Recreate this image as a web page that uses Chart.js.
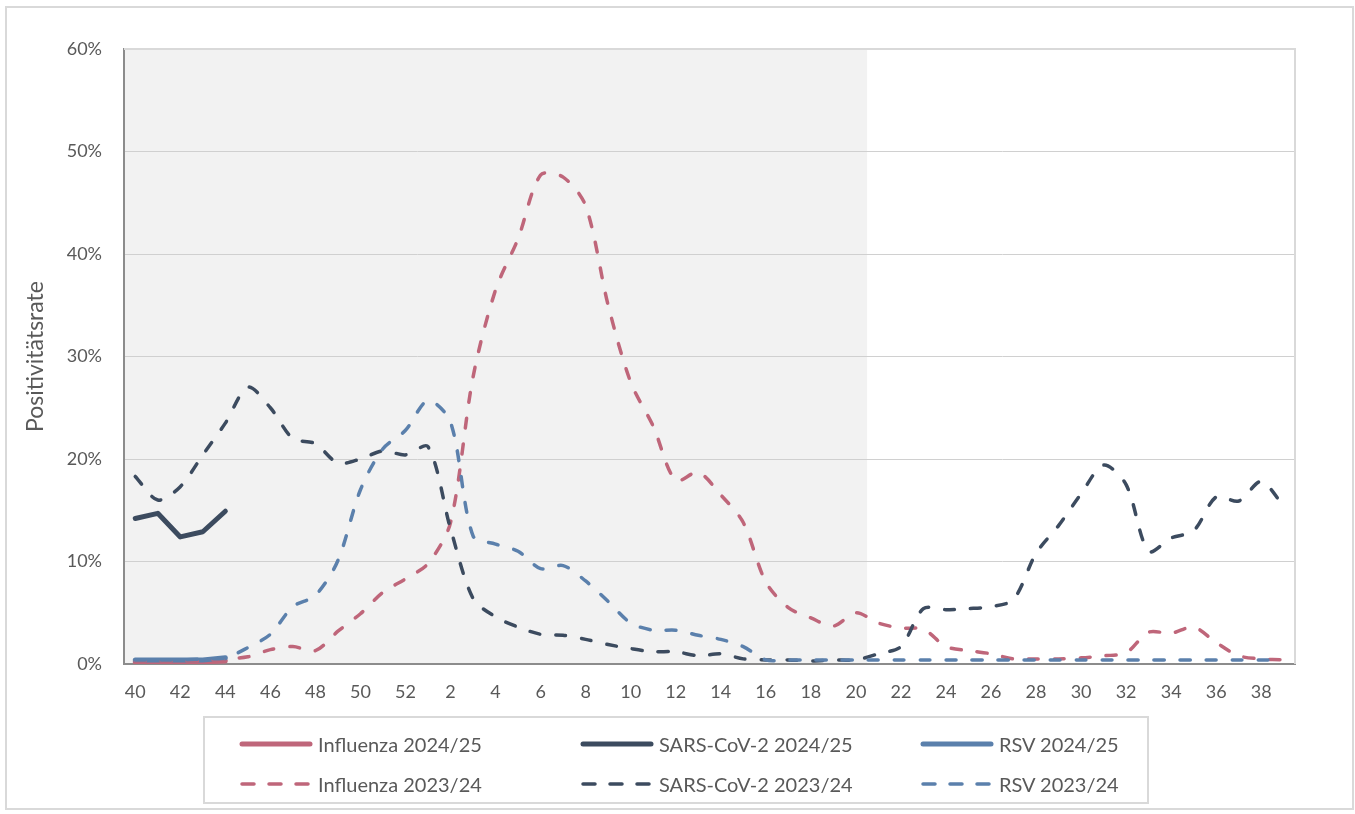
<!DOCTYPE html>
<html>
<head>
<meta charset="utf-8">
<script src="https://cdn.jsdelivr.net/npm/chart.js@4.4.1/dist/chart.umd.min.js"></script>
<style>
body { margin: 0; background: #fff; font-family: Lato, sans-serif; }
#wrap { position: relative; width: 1355px; height: 814px; }
#frame { position: absolute; left: 5px; top: 6px; width: 1349px; height: 804px; border: 2px solid #d9d9d9; box-sizing: border-box; }
#chart { position: absolute; left: 0; top: 0; }
#legend { position: absolute; left: 203px; top: 716px; width: 946px; height: 88px; border: 2px solid #d9d9d9; box-sizing: border-box; }
.item { position: absolute; display: flex; align-items: center; font-size: 20px; color: #595959; white-space: nowrap; }
.item svg { margin-right: 5px; }
</style>
</head>
<body>
<div id="wrap">
  <div id="frame"></div>
  <canvas id="chart" width="1355" height="814"></canvas>
  <div id="legend"></div>
</div>
<script>
// Kalenderwochen 40/2023 bis 39/2024
const weeks = [40, 41, 42, 43, 44, 45, 46, 47, 48, 49, 50, 51, 52,
    1, 2, 3, 4, 5, 6, 7, 8, 9, 10, 11, 12, 13, 14, 15, 16, 17, 18, 19, 20,
    21, 22, 23, 24, 25, 26, 27, 28, 29, 30, 31, 32, 33, 34, 35, 36, 37, 38, 39];
const shadeUntilWeek = 20;

const yTicks = [0, 10, 20, 30, 40, 50, 60];

// Saison 2024/25 (bisher)
const flu2425 = [0.2, 0.2, 0.2, 0.2, 0.3];
const sars2425 = [14.2, 14.7, 12.4, 12.9, 14.9];
const rsv2425 = [0.4, 0.4, 0.4, 0.4, 0.6];

// Saison 2023/24
const flu2324 = [0.3, 0.3, 0.3, 0.3, 0.5, 0.7, 1.4, 1.7, 1.3, 3.2, 4.9, 7.0, 8.3,
    9.8, 13.8, 28.0, 36.5, 41.5, 47.7, 47.5, 44.7, 35.0, 27.5, 23.2, 17.9, 18.7, 16.5,
    13.8, 8.0, 5.5, 4.5, 3.7, 5.0, 4.0, 3.5, 3.4, 1.7, 1.3, 1.0, 0.5, 0.5, 0.5, 0.6,
    0.8, 1.1, 3.1, 3.0, 3.6, 2.1, 0.8, 0.5, 0.4];
const sars2324 = [18.3, 16.0, 17.3, 20.4, 23.5, 27.0, 25.0, 22.0, 21.5, 19.6, 20.0, 20.8, 20.4,
    21.2, 13.2, 6.4, 4.6, 3.6, 2.9, 2.8, 2.4, 1.9, 1.5, 1.2, 1.2, 0.8, 1.0,
    0.5, 0.4, 0.4, 0.3, 0.4, 0.4, 1.0, 1.7, 5.4, 5.3, 5.4, 5.6, 6.3, 10.8, 13.5, 16.6,
    19.4, 17.5, 11.0, 12.3, 13.0, 16.3, 15.9, 17.8, 15.4];
const rsv2324 = [0.4, 0.4, 0.4, 0.5, 0.6, 1.6, 2.9, 5.6, 6.7, 10.1, 17.0, 21.0, 22.8,
    25.7, 23.6, 12.5, 11.7, 11.0, 9.3, 9.6, 8.1, 6.1, 4.0, 3.3, 3.3, 2.8, 2.4,
    1.7, 0.4, 0.4, 0.4, 0.4, 0.4, 0.4, 0.4, 0.4, 0.4, 0.4, 0.4, 0.4, 0.4, 0.4, 0.4,
    0.4, 0.4, 0.4, 0.4, 0.4, 0.4, 0.4, 0.4, 0.4];

const colFlu = '#bf667a';
const colSars = '#3c4b5f';
const colRsv = '#5b80ac';
const textColor = '#595959';

function solid(label, data, color) {
    return { label, data, borderColor: color, backgroundColor: color, borderWidth: 5,
        borderCapStyle: 'round', borderJoinStyle: 'round', pointRadius: 0, tension: 0 };
}
function dashed(label, data, color) {
    return { label, data, borderColor: color, backgroundColor: color, borderWidth: 3.5,
        borderDash: [10, 16], borderCapStyle: 'round', pointRadius: 0, tension: 0.3 };
}

const datasets = [
    solid('Influenza 2024/25', flu2425, colFlu),
    solid('SARS-CoV-2 2024/25', sars2425, colSars),
    solid('RSV 2024/25', rsv2425, colRsv),
    dashed('Influenza 2023/24', flu2324, colFlu),
    dashed('SARS-CoV-2 2023/24', sars2324, colSars),
    dashed('RSV 2023/24', rsv2324, colRsv)
];
// later series on top, like in the original
datasets.forEach((d, i) => { d.order = datasets.length - i; });

const areaPlugin = {
    id: 'area',
    beforeDraw(chart) {
        const { ctx, chartArea, scales } = chart;
        const x = scales.x;
        const step = (chartArea.right - chartArea.left) / weeks.length;
        const end = x.getPixelForValue(weeks.indexOf(shadeUntilWeek)) + step / 2;
        ctx.save();
        ctx.fillStyle = '#f2f2f2';
        ctx.fillRect(chartArea.left, chartArea.top, end - chartArea.left, chartArea.bottom - chartArea.top);
        ctx.restore();
    },
    afterDraw(chart) {
        const { ctx, chartArea } = chart;
        ctx.save();
        ctx.strokeStyle = '#d9d9d9';
        ctx.lineWidth = 2;
        ctx.beginPath();
        ctx.moveTo(chartArea.left, chartArea.top);
        ctx.lineTo(chartArea.right, chartArea.top);
        ctx.lineTo(chartArea.right, chartArea.bottom);
        ctx.stroke();
        ctx.restore();
    }
};

new Chart(document.getElementById('chart'), {
    type: 'line',
    data: { labels: weeks, datasets: datasets },
    options: {
        responsive: false,
        animation: false,
        layout: { padding: { left: 0, top: 49, right: 60, bottom: 0 } },
        plugins: { legend: { display: false }, tooltip: { enabled: false } },
        scales: {
            x: {
                offset: true,
                grid: { display: false, drawTicks: false },
                border: { color: '#8c8c8c', width: 2 },
                ticks: {
                    autoSkip: false, maxRotation: 0, padding: 17,
                    color: textColor, font: { family: 'Lato', size: 18 },
                    callback: (v, i) => i % 2 === 0 ? weeks[i] : ''
                },
                afterFit: s => { s.height = 150; }
            },
            y: {
                min: 0, max: 60,
                afterBuildTicks: s => { s.ticks = yTicks.map(v => ({ value: v })); },
                grid: { color: '#d0d0d0', lineWidth: 1, drawTicks: false },
                border: { color: '#8c8c8c', width: 2 },
                ticks: { padding: 22, color: textColor, font: { family: 'Lato', size: 18 },
                    callback: v => v + '%' },
                title: { display: true, text: 'Positivitätsrate', color: textColor,
                    font: { family: 'Lato', size: 23 }, padding: { top: 22 } },
                afterFit: s => { s.width = 124; }
            }
        }
    },
    plugins: [areaPlugin]
});

// legend: 3 columns, 2 rows
const legendEl = document.getElementById('legend');
const colX = [34, 375, 715];
const rowY = [26, 66];
datasets.forEach((d, i) => {
    const item = document.createElement('div');
    item.className = 'item';
    item.style.left = colX[i % 3] + 'px';
    item.style.top = (rowY[Math.floor(i / 3)] - 14) + 'px';
    item.style.height = '28px';
    const dash = d.borderDash ? ' stroke-dasharray="12 15"' : '';
    const w = d.borderDash ? 3.5 : 5;
    item.innerHTML = '<svg width="74" height="10"><line x1="3" y1="5" x2="71" y2="5" stroke="' + d.borderColor +
        '" stroke-width="' + w + '" stroke-linecap="round"' + dash + '/></svg><span>' + d.label + '</span>';
    legendEl.appendChild(item);
});
</script>
</body>
</html>
